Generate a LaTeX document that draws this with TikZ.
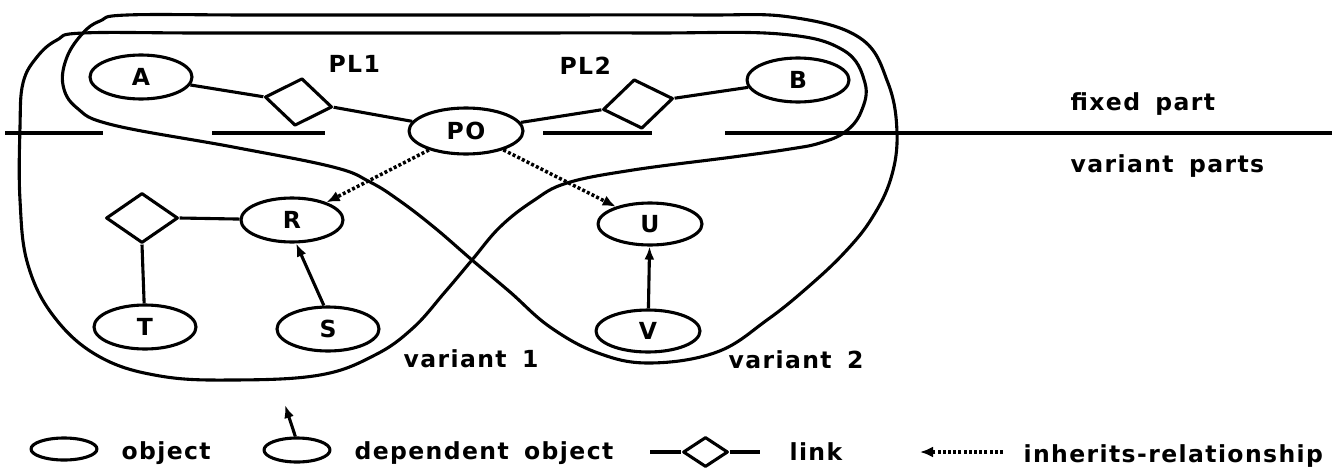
\documentclass[tikz,border=0pt]{standalone}
\usepackage{fontspec}
\setmainfont{DejaVu Sans}[LetterSpace=6, WordSpace=1.6]
\usetikzlibrary{shapes.geometric,arrows.meta}

\begin{document}
\begin{tikzpicture}[x=1pt,y=-1pt,
  line width=3.1pt, line join=round,
  every node/.style={font=\bfseries\fontsize{23.5}{27}\selectfont},
  obj/.style={draw, ellipse, fill=white, inner sep=0pt, minimum width=102pt, minimum height=44pt},
  lnk/.style={draw, diamond, fill=white, inner sep=0pt, minimum width=70pt, minimum height=50pt},
  inh/.style={dash pattern=on 3pt off 2.2pt, line width=3.5pt, -{Latex[length=13pt,width=11pt]}},
  dep/.style={-{Latex[length=13pt,width=10pt]}},
  lbl/.style={anchor=base west, inner sep=0pt},
  loop/.style={line width=3.1pt}
]
\useasboundingbox (0,0) rectangle (1338,471);

% fixed part / variant parts separator
\draw (5,133) -- (103,133) (212,133) -- (325,133) (543,133) -- (652,133) (725,133) -- (1332,133);

% variant 2 outline
\draw[loop] plot[smooth cycle, tension=0.65] coordinates {
  (127,15) (250,15) (400,15) (550,15) (700,15) (790,17) (860,38) (888,83)
  (897,133) (891,178) (872,218) (845,252) (808,287) (767,320) (717,352)
  (650,363) (598,353) (550,327) (510,292) (472,260) (435,228) (400,201)
  (370,182) (333,167) (233,147) (113,125) (77,108) (63,85) (67,57) (83,33) (100,21)};

% variant 1 outline
\draw[loop] plot[smooth cycle, tension=0.65] coordinates {
  (83,33) (200,33) (350,33) (500,33) (650,33) (780,34) (843,50) (865,83)
  (861,112) (845,132) (820,143) (790,149) (733,157) (633,170) (567,183)
  (533,201) (500,227) (472,260) (445,292) (413,328) (375,355) (320,375)
  (233,380) (160,376) (100,357) (55,318) (28,265) (20,200)
  (20,127) (23,83) (37,57) (57,40)};

% objects
\node[obj] (A) at (141,77) {A};
\node[obj, minimum width=114pt, minimum height=46pt] (PO) at (466,131) {PO};
\node[obj] (B) at (798,80) {B};
\node[obj] (R) at (292,220) {R};
\node[obj, minimum width=104pt, minimum height=42pt] (U) at (650,224) {U};
\node[obj] (T) at (145,327) {T};
\node[obj] (S) at (328,329) {S};
\node[obj, minimum width=104pt, minimum height=42pt] (V) at (648,331) {V};

% links
\node[lnk, rotate=-8.5, minimum width=68pt, minimum height=48pt] (PL1d) at (298.5,102) {};
\node[lnk, rotate=9, minimum width=71pt] (PL2d) at (638,104) {};
\node[lnk, minimum width=72pt] (Ld) at (142,218) {};

\node[lbl] (pl1) at (327,72) {PL1};
\node[lbl] (pl2) at (558,74) {PL2};

% connectors
\draw (A) -- (PL1d.west);
\draw (PL1d.east) -- (PO);
\draw (PO) -- (PL2d.west);
\draw (PL2d.east) -- (B);
\draw (Ld.east) -- (R);
\draw (Ld.south) -- (T);
\draw[dep] (S.100) -- (R.-80);
\draw[dep] (V) -- (U);
\draw[inh] (PO) -- (R);
\draw[inh] (PO) -- (U);

% region labels
\node[lbl] (fx) at (1069,110) {fixed part};
\node[lbl] (vp) at (1069,172) {variant parts};
\node[lbl] (v1) at (402,367) {variant 1};
\node[lbl] (v2) at (727,368) {variant 2};

% legend
\node[obj, minimum width=66pt, minimum height=22pt] (lobj) at (64,449) {};
\node[lbl] (tobj) at (120,459) {object};
\node[obj, minimum width=66pt, minimum height=24pt] (ldep) at (297,450) {};
\coordinate (ldtip) at (285,405);
\draw[dep] (ldep.97) -- (ldtip);
\node[lbl] (tdep) at (353,459) {dependent object};
\coordinate (lk1) at (650,452);
\coordinate (lk2) at (760,452);
\node[lnk, minimum width=45pt, minimum height=30pt] (lkd) at (705.5,452) {};
\draw (lk1) -- (lkd.west) (lkd.east) -- (lk2);
\node[lbl] (tlnk) at (788,460) {link};
\coordinate (ia) at (1003,452);
\coordinate (ib) at (920,452);
\draw[inh] (ia) -- (ib);
\node[lbl] (tinh) at (1022,462) {inherits-relationship};
\end{tikzpicture}
\end{document}
